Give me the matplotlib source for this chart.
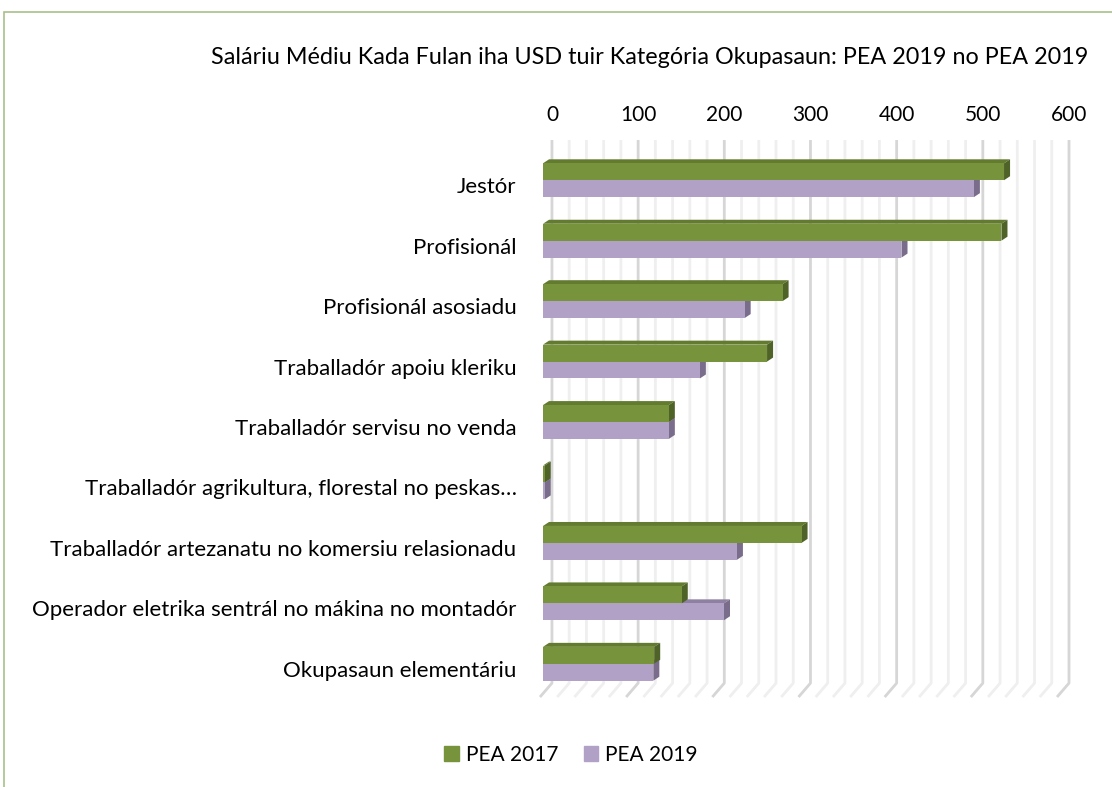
import matplotlib
matplotlib.use("Agg")
import matplotlib.pyplot as plt
from matplotlib.patches import Polygon, Rectangle, Patch
from matplotlib.transforms import ScaledTranslation

plt.rcParams['font.family'] = ['Lato', 'DejaVu Sans']

# data
categories = ["Jestór", "Profisionál", "Profisionál asosiadu", "Traballadór apoiu kleriku",
              "Traballadór servisu no venda", "Traballadór agrikultura, florestal no peskas…",
              "Traballadór artezanatu no komersiu relasionadu",
              "Operador eletrika sentrál no mákina no montadór", "Okupasaun elementáriu"]
pea2017 = [535, 532, 278, 260, 146, 2, 300, 161, 129]
pea2019 = [500, 416, 234, 182, 146, 2, 225, 210, 128]
ticks = [0, 100, 200, 300, 400, 500, 600]
title = "Saláriu Médiu Kada Fulan iha USD tuir Kategória Okupasaun: PEA 2019 no PEA 2019"

green = "#77933C"
green_top = "#627b2f"
green_side = "#4F6228"
purple = "#B2A1C7"
purple_top = "#8e80a0"
purple_side = "#7a6d8c"

fig = plt.figure(figsize=(11.12, 7.87), dpi=100)
ax = fig.add_axes([543/1112, 93/787, 526/1112, 544/787])
ax.set_xlim(0, 600)
ax.set_ylim(8.5, -0.5)

h = 0.28     # front face height of one bar
dx = 7.0     # depth of bar, x
dy = 0.066   # depth of bar, y
back = 10.4  # back wall offset

# gridlines on back wall + floor
for g in range(0, 601, 20):
    col = "#d6d6d6" if g % 100 == 0 else "#efefef"
    ax.plot([g + back, g + back, g - 3.5], [-0.665, 8.32, 8.55], color=col, lw=2,
            clip_on=False, zorder=1, solid_capstyle="butt")

n = len(categories)
pos = list(range(n))

# purple (lower) first
for i in pos:
    v = pea2019[i]
    c = i
    ax.add_patch(Polygon([(0, c), (v, c), (v + dx, c - dy), (dx, c - dy)],
                         closed=True, fc=purple_top, ec="none", zorder=2))
    ax.add_patch(Polygon([(v, c), (v + dx, c - dy), (v + dx, c + h - dy), (v, c + h)],
                         closed=True, fc=purple_side, ec="none", zorder=2))
ax.barh([p + h/2 for p in pos], pea2019, height=h, color=purple, zorder=3)

for i in pos:
    v = pea2017[i]
    c = i - h
    ax.add_patch(Polygon([(0, c), (v, c), (v + dx, c - dy), (dx, c - dy)],
                         closed=True, fc=green_top, ec="none", zorder=4))
    ax.add_patch(Polygon([(v, c), (v + dx, c - dy), (v + dx, c + h - dy), (v, c + h)],
                         closed=True, fc=green_side, ec="none", zorder=4))
ax.barh([p - h/2 for p in pos], pea2017, height=h, color=green, zorder=5)

for s in ax.spines.values():
    s.set_visible(False)
ax.xaxis.tick_top()
ax.set_xticks([t + back for t in ticks], [str(t) for t in ticks])
ax.set_yticks(pos, categories)
ax.tick_params(axis="x", length=0, pad=18, labelsize=15, colors="#000000")
ax.tick_params(axis="y", length=0, pad=19, labelsize=16, colors="#000000")
shift = ScaledTranslation(0, -5/100, fig.dpi_scale_trans)
for lab in ax.get_yticklabels():
    lab.set_transform(lab.get_transform() + shift)

fig.text(650/1112, 1 - 57/787, title, ha="center", va="center", fontsize=16.8)

handles = [Patch(color=green, label="PEA 2017"), Patch(color=purple, label="PEA 2019")]
fig.legend(handles=handles, loc="center", bbox_to_anchor=(571/1112, 32/787), ncol=2,
           frameon=False, fontsize=15, handlelength=0.7, handleheight=0.7,
           handletextpad=0.35, columnspacing=1.2)

# chart border
fig.add_artist(Rectangle((4/1112, -0.1), 1.2, 1 - 12/787 + 0.1, transform=fig.transFigure,
                         fill=False, ec="#a9c08a", lw=1.2))

fig.savefig("out.png", dpi=100, facecolor="white")
